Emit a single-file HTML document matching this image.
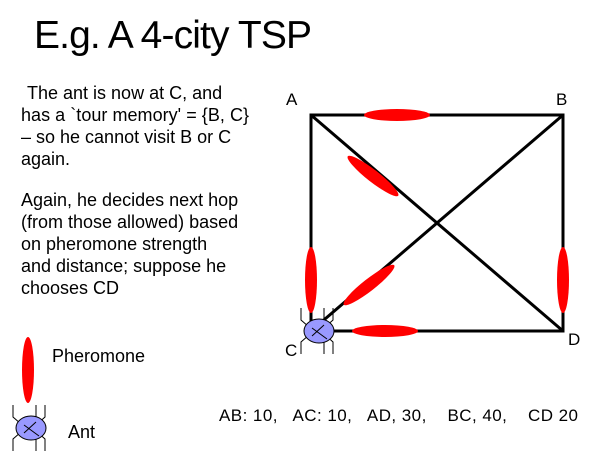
<!DOCTYPE html>
<html><head><meta charset="utf-8"><style>
body{margin:0;width:602px;height:463px;background:#fff;overflow:hidden;font-family:"Liberation Sans",sans-serif}
svg{position:absolute;left:0;top:0}
</style></head><body>
<svg width="602" height="463" viewBox="0 0 602 463">
<text x="34" y="48" font-size="39" textLength="278" fill="#000">E.g. A 4-city TSP</text>
<g font-size="18" fill="#000">
<text x="27" y="99">The ant is now at C, and</text>
<text x="21" y="121" textLength="228">has a `tour memory' = {B, C}</text>
<text x="21" y="143">– so he cannot visit B or C</text>
<text x="21" y="165">again.</text>
<text x="21" y="206">Again, he decides next hop</text>
<text x="21" y="228">(from those allowed) based</text>
<text x="21" y="250">on pheromone strength</text>
<text x="21" y="272">and distance; suppose he</text>
<text x="21" y="294">chooses CD</text>
</g>
<g stroke="#000" stroke-width="3" fill="none">
<rect x="311" y="115" width="252" height="216"/>
<line x1="311" y1="115" x2="563" y2="331"/>
<line x1="311" y1="331" x2="563" y2="115"/>
</g>
<g fill="#ff0000">
<ellipse cx="397" cy="115" rx="33" ry="6"/>
<ellipse cx="311" cy="280" rx="6" ry="33"/>
<ellipse cx="563" cy="280" rx="6" ry="33"/>
<ellipse cx="385" cy="331" rx="33" ry="6"/>
<ellipse cx="0" cy="0" rx="32" ry="6" transform="translate(373,176) rotate(38)"/>
<ellipse cx="0" cy="0" rx="32" ry="6" transform="translate(369,285) rotate(-38)"/>
</g>
<g font-size="17" fill="#000">
<text x="286" y="105">A</text><text x="556" y="105">B</text>
<text x="285" y="356">C</text><text x="568" y="345">D</text>
</g>
<g transform="translate(319,331)">
<path d="M-10,-4 L-18,-11 L-18,-23 M-3,-4 L5,-11 L5,-23 M4,-2 L14,-11 L14,-23 M-10,4 L-18,11 L-18,23 M-3,4 L5,11 L5,23 M4,2 L14,11 L14,23" stroke="#000" fill="none"/>
<ellipse cx="0" cy="0" rx="15" ry="12" fill="#9999ff" stroke="#000" stroke-width="1"/>
<path d="M-7,5 L5,-6 M-7,-3 L8,8" stroke="#000" stroke-width="1"/>
</g>
<ellipse cx="28" cy="370" rx="6" ry="33" fill="#ff0000"/>
<text x="52" y="362" font-size="18">Pheromone</text>
<g transform="translate(31,428)">
<path d="M-10,-4 L-18,-11 L-18,-23 M-3,-4 L5,-11 L5,-23 M4,-2 L14,-11 L14,-23 M-10,4 L-18,11 L-18,23 M-3,4 L5,11 L5,23 M4,2 L14,11 L14,23" stroke="#000" fill="none"/>
<ellipse cx="0" cy="0" rx="15" ry="12" fill="#9999ff" stroke="#000" stroke-width="1"/>
<path d="M-7,5 L5,-6 M-7,-3 L8,8" stroke="#000" stroke-width="1"/>
</g>
<text x="68" y="438" font-size="18">Ant</text>
<text x="219" y="421" font-size="17" textLength="359" xml:space="preserve">AB: 10,   AC: 10,   AD, 30,    BC, 40,    CD 20</text>
</svg>
</body></html>
